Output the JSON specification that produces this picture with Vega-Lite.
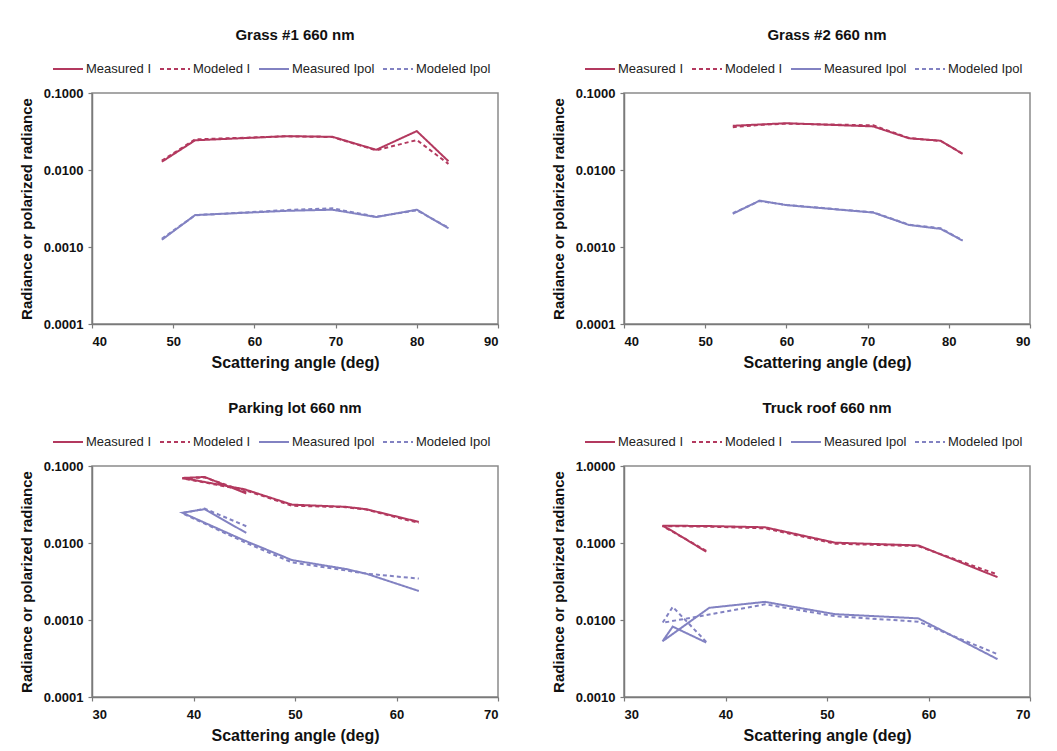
{
  "$schema": "https://vega.github.io/schema/vega-lite/v6.json",
  "background": "white",
  "padding": {"left": 18, "top": 27, "right": 5, "bottom": 5},
  "config": {
    "font": "Liberation Sans",
    "view": {"stroke": "#8a8a8a", "strokeWidth": 1.5},
    "title": {"font": "Liberation Sans", "fontSize": 15, "fontWeight": "bold", "color": "#111", "anchor": "middle", "offset": 10},
    "axis": {
      "grid": false,
      "domainColor": "#7a7a7a", "domainWidth": 1.5,
      "tickColor": "#7a7a7a", "tickWidth": 1.2, "tickSize": 4,
      "labelFont": "Liberation Sans", "labelFontWeight": "bold", "labelFontSize": 13, "labelColor": "#111",
      "titleFont": "Liberation Sans", "titleFontWeight": "bold", "titleColor": "#111"
    },
    "axisX": {"labelPadding": 7, "titleFontSize": 16, "titlePadding": 6},
    "axisY": {"labelPadding": 5, "titleFontSize": 15, "titlePadding": 9},
    "legend": {
      "orient": "none", "legendX": -40, "legendY": -40, "direction": "horizontal", "columns": 4,
      "labelFont": "Liberation Sans", "labelFontSize": 13, "labelColor": "#222",
      "symbolType": "stroke", "symbolSize": 900, "symbolStrokeWidth": 2,
      "columnPadding": 4, "labelOffset": 2, "title": null
    }
  },
  "datasets": {
    "d": [
      {"p": "g1", "s": "Measured I", "i": 1, "x": 48.6, "y": 0.0128},
      {"p": "g1", "s": "Measured I", "i": 2, "x": 52.7, "y": 0.0243},
      {"p": "g1", "s": "Measured I", "i": 3, "x": 64.0, "y": 0.0275},
      {"p": "g1", "s": "Measured I", "i": 4, "x": 69.6, "y": 0.0270},
      {"p": "g1", "s": "Measured I", "i": 5, "x": 75.0, "y": 0.0183},
      {"p": "g1", "s": "Measured I", "i": 6, "x": 80.0, "y": 0.0320},
      {"p": "g1", "s": "Measured I", "i": 7, "x": 83.9, "y": 0.0130},
      {"p": "g1", "s": "Modeled I", "i": 1, "x": 48.6, "y": 0.0132},
      {"p": "g1", "s": "Modeled I", "i": 2, "x": 52.7, "y": 0.0250},
      {"p": "g1", "s": "Modeled I", "i": 3, "x": 64.0, "y": 0.0274},
      {"p": "g1", "s": "Modeled I", "i": 4, "x": 69.6, "y": 0.0268},
      {"p": "g1", "s": "Modeled I", "i": 5, "x": 75.0, "y": 0.0180},
      {"p": "g1", "s": "Modeled I", "i": 6, "x": 80.0, "y": 0.0245},
      {"p": "g1", "s": "Modeled I", "i": 7, "x": 83.9, "y": 0.0120},
      {"p": "g1", "s": "Measured Ipol", "i": 1, "x": 48.6, "y": 0.00124},
      {"p": "g1", "s": "Measured Ipol", "i": 2, "x": 52.7, "y": 0.00260},
      {"p": "g1", "s": "Measured Ipol", "i": 3, "x": 64.0, "y": 0.00295},
      {"p": "g1", "s": "Measured Ipol", "i": 4, "x": 69.6, "y": 0.00305},
      {"p": "g1", "s": "Measured Ipol", "i": 5, "x": 75.0, "y": 0.00245},
      {"p": "g1", "s": "Measured Ipol", "i": 6, "x": 80.0, "y": 0.00305},
      {"p": "g1", "s": "Measured Ipol", "i": 7, "x": 83.9, "y": 0.00175},
      {"p": "g1", "s": "Modeled Ipol", "i": 1, "x": 48.6, "y": 0.00128},
      {"p": "g1", "s": "Modeled Ipol", "i": 2, "x": 52.7, "y": 0.00258},
      {"p": "g1", "s": "Modeled Ipol", "i": 3, "x": 64.0, "y": 0.00302},
      {"p": "g1", "s": "Modeled Ipol", "i": 4, "x": 69.6, "y": 0.00318},
      {"p": "g1", "s": "Modeled Ipol", "i": 5, "x": 75.0, "y": 0.00247},
      {"p": "g1", "s": "Modeled Ipol", "i": 6, "x": 80.0, "y": 0.00300},
      {"p": "g1", "s": "Modeled Ipol", "i": 7, "x": 83.9, "y": 0.00178},

      {"p": "g2", "s": "Measured I", "i": 1, "x": 53.4, "y": 0.0375},
      {"p": "g2", "s": "Measured I", "i": 2, "x": 56.7, "y": 0.0390},
      {"p": "g2", "s": "Measured I", "i": 3, "x": 60.0, "y": 0.0405},
      {"p": "g2", "s": "Measured I", "i": 4, "x": 70.7, "y": 0.0368},
      {"p": "g2", "s": "Measured I", "i": 5, "x": 75.1, "y": 0.0258},
      {"p": "g2", "s": "Measured I", "i": 6, "x": 79.0, "y": 0.0240},
      {"p": "g2", "s": "Measured I", "i": 7, "x": 81.7, "y": 0.0162},
      {"p": "g2", "s": "Modeled I", "i": 1, "x": 53.4, "y": 0.0360},
      {"p": "g2", "s": "Modeled I", "i": 2, "x": 56.7, "y": 0.0385},
      {"p": "g2", "s": "Modeled I", "i": 3, "x": 60.0, "y": 0.0400},
      {"p": "g2", "s": "Modeled I", "i": 4, "x": 70.7, "y": 0.0380},
      {"p": "g2", "s": "Modeled I", "i": 5, "x": 75.1, "y": 0.0260},
      {"p": "g2", "s": "Modeled I", "i": 6, "x": 79.0, "y": 0.0238},
      {"p": "g2", "s": "Modeled I", "i": 7, "x": 81.7, "y": 0.0163},
      {"p": "g2", "s": "Measured Ipol", "i": 1, "x": 53.4, "y": 0.00270},
      {"p": "g2", "s": "Measured Ipol", "i": 2, "x": 56.7, "y": 0.00400},
      {"p": "g2", "s": "Measured Ipol", "i": 3, "x": 60.0, "y": 0.00350},
      {"p": "g2", "s": "Measured Ipol", "i": 4, "x": 70.7, "y": 0.00280},
      {"p": "g2", "s": "Measured Ipol", "i": 5, "x": 75.1, "y": 0.00193},
      {"p": "g2", "s": "Measured Ipol", "i": 6, "x": 79.0, "y": 0.00172},
      {"p": "g2", "s": "Measured Ipol", "i": 7, "x": 81.7, "y": 0.00121},
      {"p": "g2", "s": "Modeled Ipol", "i": 1, "x": 53.4, "y": 0.00275},
      {"p": "g2", "s": "Modeled Ipol", "i": 2, "x": 56.7, "y": 0.00395},
      {"p": "g2", "s": "Modeled Ipol", "i": 3, "x": 60.0, "y": 0.00352},
      {"p": "g2", "s": "Modeled Ipol", "i": 4, "x": 70.7, "y": 0.00282},
      {"p": "g2", "s": "Modeled Ipol", "i": 5, "x": 75.1, "y": 0.00195},
      {"p": "g2", "s": "Modeled Ipol", "i": 6, "x": 79.0, "y": 0.00175},
      {"p": "g2", "s": "Modeled Ipol", "i": 7, "x": 81.7, "y": 0.00122},

      {"p": "pl", "s": "Measured I", "i": 1, "x": 45.2, "y": 0.044},
      {"p": "pl", "s": "Measured I", "i": 2, "x": 41.1, "y": 0.072},
      {"p": "pl", "s": "Measured I", "i": 3, "x": 38.9, "y": 0.070},
      {"p": "pl", "s": "Measured I", "i": 4, "x": 45.0, "y": 0.050},
      {"p": "pl", "s": "Measured I", "i": 5, "x": 49.7, "y": 0.0315},
      {"p": "pl", "s": "Measured I", "i": 6, "x": 55.0, "y": 0.0295},
      {"p": "pl", "s": "Measured I", "i": 7, "x": 57.0, "y": 0.0275},
      {"p": "pl", "s": "Measured I", "i": 8, "x": 62.2, "y": 0.0188},
      {"p": "pl", "s": "Modeled I", "i": 1, "x": 45.2, "y": 0.046},
      {"p": "pl", "s": "Modeled I", "i": 2, "x": 41.1, "y": 0.071},
      {"p": "pl", "s": "Modeled I", "i": 3, "x": 38.9, "y": 0.069},
      {"p": "pl", "s": "Modeled I", "i": 4, "x": 45.0, "y": 0.049},
      {"p": "pl", "s": "Modeled I", "i": 5, "x": 49.7, "y": 0.0305},
      {"p": "pl", "s": "Modeled I", "i": 6, "x": 55.0, "y": 0.0292},
      {"p": "pl", "s": "Modeled I", "i": 7, "x": 57.0, "y": 0.0272},
      {"p": "pl", "s": "Modeled I", "i": 8, "x": 62.2, "y": 0.0182},
      {"p": "pl", "s": "Measured Ipol", "i": 1, "x": 45.2, "y": 0.0135},
      {"p": "pl", "s": "Measured Ipol", "i": 2, "x": 41.1, "y": 0.0275},
      {"p": "pl", "s": "Measured Ipol", "i": 3, "x": 38.9, "y": 0.0247},
      {"p": "pl", "s": "Measured Ipol", "i": 4, "x": 45.0, "y": 0.0108},
      {"p": "pl", "s": "Measured Ipol", "i": 5, "x": 49.7, "y": 0.0060},
      {"p": "pl", "s": "Measured Ipol", "i": 6, "x": 55.0, "y": 0.0046},
      {"p": "pl", "s": "Measured Ipol", "i": 7, "x": 57.0, "y": 0.0040},
      {"p": "pl", "s": "Measured Ipol", "i": 8, "x": 62.2, "y": 0.00238},
      {"p": "pl", "s": "Modeled Ipol", "i": 1, "x": 45.2, "y": 0.0165},
      {"p": "pl", "s": "Modeled Ipol", "i": 2, "x": 41.1, "y": 0.0280},
      {"p": "pl", "s": "Modeled Ipol", "i": 3, "x": 38.9, "y": 0.0243},
      {"p": "pl", "s": "Modeled Ipol", "i": 4, "x": 45.0, "y": 0.0103},
      {"p": "pl", "s": "Modeled Ipol", "i": 5, "x": 49.7, "y": 0.0056},
      {"p": "pl", "s": "Modeled Ipol", "i": 6, "x": 55.0, "y": 0.0044},
      {"p": "pl", "s": "Modeled Ipol", "i": 7, "x": 57.0, "y": 0.0040},
      {"p": "pl", "s": "Modeled Ipol", "i": 8, "x": 62.2, "y": 0.00345},

      {"p": "tr", "s": "Measured I", "i": 1, "x": 38.1, "y": 0.077},
      {"p": "tr", "s": "Measured I", "i": 2, "x": 34.8, "y": 0.142},
      {"p": "tr", "s": "Measured I", "i": 3, "x": 33.8, "y": 0.168},
      {"p": "tr", "s": "Measured I", "i": 4, "x": 38.4, "y": 0.166},
      {"p": "tr", "s": "Measured I", "i": 5, "x": 43.9, "y": 0.160},
      {"p": "tr", "s": "Measured I", "i": 6, "x": 50.8, "y": 0.101},
      {"p": "tr", "s": "Measured I", "i": 7, "x": 59.0, "y": 0.093},
      {"p": "tr", "s": "Measured I", "i": 8, "x": 66.8, "y": 0.036},
      {"p": "tr", "s": "Modeled I", "i": 1, "x": 38.1, "y": 0.079},
      {"p": "tr", "s": "Modeled I", "i": 2, "x": 34.8, "y": 0.140},
      {"p": "tr", "s": "Modeled I", "i": 3, "x": 33.8, "y": 0.166},
      {"p": "tr", "s": "Modeled I", "i": 4, "x": 38.4, "y": 0.163},
      {"p": "tr", "s": "Modeled I", "i": 5, "x": 43.9, "y": 0.155},
      {"p": "tr", "s": "Modeled I", "i": 6, "x": 50.8, "y": 0.098},
      {"p": "tr", "s": "Modeled I", "i": 7, "x": 59.0, "y": 0.091},
      {"p": "tr", "s": "Modeled I", "i": 8, "x": 66.8, "y": 0.039},
      {"p": "tr", "s": "Measured Ipol", "i": 1, "x": 38.1, "y": 0.0051},
      {"p": "tr", "s": "Measured Ipol", "i": 2, "x": 34.8, "y": 0.0082},
      {"p": "tr", "s": "Measured Ipol", "i": 3, "x": 33.8, "y": 0.0053},
      {"p": "tr", "s": "Measured Ipol", "i": 4, "x": 38.4, "y": 0.0144},
      {"p": "tr", "s": "Measured Ipol", "i": 5, "x": 43.9, "y": 0.0172},
      {"p": "tr", "s": "Measured Ipol", "i": 6, "x": 50.8, "y": 0.0119},
      {"p": "tr", "s": "Measured Ipol", "i": 7, "x": 59.0, "y": 0.0105},
      {"p": "tr", "s": "Measured Ipol", "i": 8, "x": 66.8, "y": 0.0031},
      {"p": "tr", "s": "Modeled Ipol", "i": 1, "x": 38.1, "y": 0.0052},
      {"p": "tr", "s": "Modeled Ipol", "i": 2, "x": 34.8, "y": 0.0148},
      {"p": "tr", "s": "Modeled Ipol", "i": 3, "x": 33.8, "y": 0.0092},
      {"p": "tr", "s": "Modeled Ipol", "i": 4, "x": 38.4, "y": 0.0118},
      {"p": "tr", "s": "Modeled Ipol", "i": 5, "x": 43.9, "y": 0.0160},
      {"p": "tr", "s": "Modeled Ipol", "i": 6, "x": 50.8, "y": 0.0112},
      {"p": "tr", "s": "Modeled Ipol", "i": 7, "x": 59.0, "y": 0.0095},
      {"p": "tr", "s": "Modeled Ipol", "i": 8, "x": 66.8, "y": 0.0036}
    ]
  },
  "spacing": 29,
  "resolve": {"scale": {"x": "independent", "y": "independent", "color": "independent", "strokeDash": "independent"}, "legend": {"color": "independent", "strokeDash": "independent"}},
  "vconcat": [
    {
      "spacing": 126,
      "bounds": "flush",
      "resolve": {"scale": {"x": "independent", "y": "independent", "color": "independent", "strokeDash": "independent"}, "legend": {"color": "independent", "strokeDash": "independent"}},
      "hconcat": [
        {
          "title": "Grass #1 660 nm",
          "width": 406, "height": 231,
          "data": {"name": "d"},
          "transform": [{"filter": "datum.p == 'g1'"}],
          "mark": {"type": "line", "strokeWidth": 2},
          "encoding": {
            "x": {"field": "x", "type": "quantitative", "scale": {"domain": [40, 90], "nice": false, "zero": false}, "axis": {"values": [40, 50, 60, 70, 80, 90], "title": "Scattering angle (deg)"}},
            "y": {"field": "y", "type": "quantitative", "scale": {"type": "log", "domain": [0.0001, 0.1], "nice": false}, "axis": {"values": [0.0001, 0.001, 0.01, 0.1], "format": ".4f", "title": "Radiance or polarized radiance"}},
            "color": {"field": "s", "type": "nominal", "scale": {"domain": ["Measured I", "Modeled I", "Measured Ipol", "Modeled Ipol"], "range": ["#b3395f", "#b3395f", "#8282c2", "#8282c2"]}},
            "strokeDash": {"field": "s", "type": "nominal", "scale": {"domain": ["Measured I", "Modeled I", "Measured Ipol", "Modeled Ipol"], "range": [[1, 0], [4, 3], [1, 0], [4, 3]]}},
            "order": {"field": "i", "type": "quantitative"}
          }
        },
        {
          "title": "Grass #2 660 nm",
          "width": 406, "height": 231,
          "data": {"name": "d"},
          "transform": [{"filter": "datum.p == 'g2'"}],
          "mark": {"type": "line", "strokeWidth": 2},
          "encoding": {
            "x": {"field": "x", "type": "quantitative", "scale": {"domain": [40, 90], "nice": false, "zero": false}, "axis": {"values": [40, 50, 60, 70, 80, 90], "title": "Scattering angle (deg)"}},
            "y": {"field": "y", "type": "quantitative", "scale": {"type": "log", "domain": [0.0001, 0.1], "nice": false}, "axis": {"values": [0.0001, 0.001, 0.01, 0.1], "format": ".4f", "title": "Radiance or polarized radiance"}},
            "color": {"field": "s", "type": "nominal", "scale": {"domain": ["Measured I", "Modeled I", "Measured Ipol", "Modeled Ipol"], "range": ["#b3395f", "#b3395f", "#8282c2", "#8282c2"]}},
            "strokeDash": {"field": "s", "type": "nominal", "scale": {"domain": ["Measured I", "Modeled I", "Measured Ipol", "Modeled Ipol"], "range": [[1, 0], [4, 3], [1, 0], [4, 3]]}},
            "order": {"field": "i", "type": "quantitative"}
          }
        }
      ]
    },
    {
      "spacing": 126,
      "bounds": "flush",
      "resolve": {"scale": {"x": "independent", "y": "independent", "color": "independent", "strokeDash": "independent"}, "legend": {"color": "independent", "strokeDash": "independent"}},
      "hconcat": [
        {
          "title": "Parking lot 660 nm",
          "width": 406, "height": 231,
          "data": {"name": "d"},
          "transform": [{"filter": "datum.p == 'pl'"}],
          "mark": {"type": "line", "strokeWidth": 2},
          "encoding": {
            "x": {"field": "x", "type": "quantitative", "scale": {"domain": [30, 70], "nice": false, "zero": false}, "axis": {"values": [30, 40, 50, 60, 70], "title": "Scattering angle (deg)"}},
            "y": {"field": "y", "type": "quantitative", "scale": {"type": "log", "domain": [0.0001, 0.1], "nice": false}, "axis": {"values": [0.0001, 0.001, 0.01, 0.1], "format": ".4f", "title": "Radiance or polarized radiance"}},
            "color": {"field": "s", "type": "nominal", "scale": {"domain": ["Measured I", "Modeled I", "Measured Ipol", "Modeled Ipol"], "range": ["#b3395f", "#b3395f", "#8282c2", "#8282c2"]}},
            "strokeDash": {"field": "s", "type": "nominal", "scale": {"domain": ["Measured I", "Modeled I", "Measured Ipol", "Modeled Ipol"], "range": [[1, 0], [4, 3], [1, 0], [4, 3]]}},
            "order": {"field": "i", "type": "quantitative"}
          }
        },
        {
          "title": "Truck roof 660 nm",
          "width": 406, "height": 231,
          "data": {"name": "d"},
          "transform": [{"filter": "datum.p == 'tr'"}],
          "mark": {"type": "line", "strokeWidth": 2},
          "encoding": {
            "x": {"field": "x", "type": "quantitative", "scale": {"domain": [30, 70], "nice": false, "zero": false}, "axis": {"values": [30, 40, 50, 60, 70], "title": "Scattering angle (deg)"}},
            "y": {"field": "y", "type": "quantitative", "scale": {"type": "log", "domain": [0.001, 1], "nice": false}, "axis": {"values": [0.001, 0.01, 0.1, 1], "format": ".4f", "title": "Radiance or polarized radiance"}},
            "color": {"field": "s", "type": "nominal", "scale": {"domain": ["Measured I", "Modeled I", "Measured Ipol", "Modeled Ipol"], "range": ["#b3395f", "#b3395f", "#8282c2", "#8282c2"]}},
            "strokeDash": {"field": "s", "type": "nominal", "scale": {"domain": ["Measured I", "Modeled I", "Measured Ipol", "Modeled Ipol"], "range": [[1, 0], [4, 3], [1, 0], [4, 3]]}},
            "order": {"field": "i", "type": "quantitative"}
          }
        }
      ]
    }
  ]
}
